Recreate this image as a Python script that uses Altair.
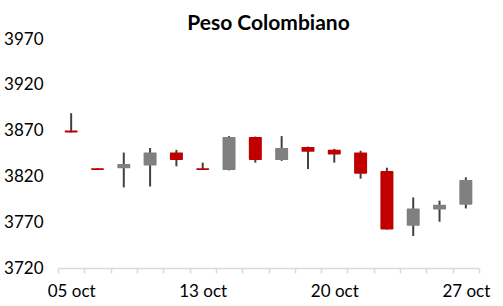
import altair as alt
import pandas as pd

dates = ["05 oct", "06 oct", "07 oct", "08 oct", "09 oct", "13 oct", "14 oct", "15 oct",
         "16 oct", "19 oct", "20 oct", "21 oct", "22 oct", "23 oct", "26 oct", "27 oct"]
open_ = [3870, 3829, 3829, 3832, 3846, 3829, 3827, 3863, 3838, 3852, 3849, 3846, 3826, 3766, 3784, 3789]
close = [3868, 3827, 3833.5, 3846, 3838, 3827, 3863, 3838, 3851, 3847, 3844, 3823, 3762, 3785, 3789, 3816]
high = [3889, 3829, 3846, 3851, 3849, 3835, 3864, 3863.5, 3864, 3852.5, 3850, 3848, 3829.5, 3797, 3793.5, 3819]
low = [3868, 3827, 3808, 3809, 3831, 3827, 3826.6, 3835, 3837, 3828, 3835, 3817.5, 3762, 3755, 3770.5, 3785]
shown_labels = ["05 oct", "13 oct", "20 oct", "27 oct"]
y_ticks = [3720, 3770, 3820, 3870, 3920, 3970]

df = pd.DataFrame({"date": dates, "open": open_, "close": close, "high": high, "low": low})
df["dir"] = ["up" if c > o else "down" for o, c in zip(open_, close)]

FONT = "Lato"
label_expr = "indexof(" + str(shown_labels) + ", datum.value) >= 0 ? datum.value : ''"

x = alt.X("date:N", sort=dates, title=None,
          scale=alt.Scale(paddingInner=0, paddingOuter=0),
          axis=alt.Axis(labelExpr=label_expr, labelAngle=0, tickBand="extent",
                        domainColor="#d9d9d9", domainWidth=1.5, tickColor="#d9d9d9",
                        tickWidth=1.5, tickSize=5, labelPadding=10, labelFont=FONT,
                        labelFontSize=17, labelColor="#000000", grid=False))
yscale = alt.Scale(domain=[3720, 3970], nice=False, zero=False)
yaxis = alt.Axis(values=y_ticks, format="d", domain=False, ticks=False, tickSize=0, grid=False,
                 labelPadding=15, labelFont=FONT, labelFontSize=17, labelColor="#000000")

wicks = alt.Chart(df).mark_rule(color="#404040", strokeWidth=2).encode(
    x=x,
    y=alt.Y("low:Q", scale=yscale, axis=yaxis, title=None),
    y2="high:Q",
)
bodies = alt.Chart(df).mark_bar(size=13, cornerRadius=1).encode(
    x=x,
    y=alt.Y("open:Q", scale=yscale, axis=yaxis, title=None),
    y2="close:Q",
    color=alt.Color("dir:N", scale=alt.Scale(domain=["up", "down"], range=["#808080", "#c00000"]),
                    legend=None),
)

chart = (wicks + bodies).properties(
    width=421, height=229,
    title=alt.TitleParams("Peso Colombiano", font=FONT, fontSize=21, fontWeight="bold",
                          color="#000000", anchor="middle", offset=9, dy=13),
    autosize=alt.AutoSizeParams(type="none"),
    padding={"left": 58, "top": 39, "right": 24, "bottom": 38},
).configure_view(stroke=None)

chart.save("out.html", embed_options={"renderer": "svg", "actions": False})
